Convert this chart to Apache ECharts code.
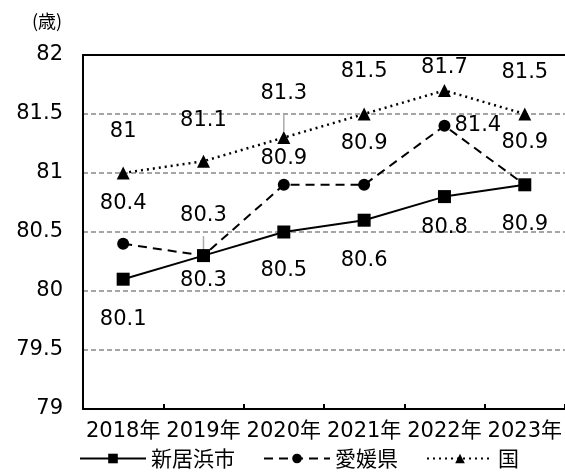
<!DOCTYPE html>
<html>
<head>
<meta charset="utf-8">
<script src="https://cdn.jsdelivr.net/npm/echarts@6/dist/echarts.min.js"></script>
<style>
  html, body { margin: 0; padding: 0; background: #fff; }
  #chart { width: 565px; height: 476px; }
</style>
</head>
<body>
<div id="chart"></div>
<script>
// data
const years = ["2018年", "2019年", "2020年", "2021年", "2022年", "2023年"];
const niihama = [80.1, 80.3, 80.5, 80.6, 80.8, 80.9];
const ehime = [80.4, 80.3, 80.9, 80.9, 81.4, 80.9];
const kuni = [81.0, 81.1, 81.3, 81.5, 81.7, 81.5];
const seriesNames = ["新居浜市", "愛媛県", "国"];

const font = "'Noto Sans CJK JP', sans-serif";
const numFont = "'DejaVu Sans', 'Noto Sans CJK JP', sans-serif";

// label placement for each point: [position, distance]
const niihamaLabel = [["bottom", 23], ["bottom", 8], ["bottom", 22], ["bottom", 23], ["bottom", 14], ["bottom", 23]];
const ehimeLabel = [["top", 24], ["top", 24], ["top", 10], ["top", 25], ["right", 4], ["top", 26]];
const kuniLabel = [["top", 24], ["top", 24], ["top", 27], ["top", 25], ["top", 6], ["top", 24]];

function fmt(v) {
  return Number.isInteger(v) ? String(v) : v.toFixed(1);
}

function buildData(values, placement, leaders) {
  return values.map((v, i) => {
    const item = {
      value: v,
      label: {
        position: placement[i][0],
        distance: placement[i][1],
      },
    };
    if (leaders && leaders.includes(i)) {
      item.labelLine = { show: true, lineStyle: { color: "#aaa", width: 1.5 } };
    }
    return item;
  });
}

const labelStyle = {
  show: true,
  color: "#000",
  fontSize: 21,
  fontFamily: numFont,
  formatter: (p) => fmt(p.value),
};

const chart = echarts.init(document.getElementById("chart"));
chart.setOption({
  animation: false,
  textStyle: { fontFamily: font },
  title: {
    text: "(歳)",
    left: 27,
    top: 7,
    textStyle: { fontSize: 18, fontWeight: "normal", color: "#000", fontFamily: font },
  },
  legend: {
    left: 74,
    bottom: 2,
    itemWidth: 66,
    itemHeight: 12,
    itemGap: 28,
    textStyle: { fontSize: 21, color: "#000", fontFamily: font },
    data: seriesNames,
  },
  grid: { left: 83, right: 0, top: 55, bottom: 67 },
  xAxis: [
    {
      type: "category",
      data: years,
      axisLine: { lineStyle: { color: "#000", width: 2 } },
      axisTick: { show: true, inside: true, length: 5, lineStyle: { color: "#000", width: 2 } },
      axisLabel: { color: "#000", fontSize: 21, margin: 12, fontFamily: numFont, interval: 0 },
    },
    {
      type: "category",
      data: years,
      position: "top",
      axisLine: { lineStyle: { color: "#000", width: 2 } },
      axisTick: { show: false },
      axisLabel: { show: false },
    },
  ],
  yAxis: {
    type: "value",
    min: 79,
    max: 82,
    interval: 0.5,
    axisLine: { show: true, lineStyle: { color: "#000", width: 2 } },
    axisTick: { show: false },
    axisLabel: { color: "#000", fontSize: 21, margin: 20, fontFamily: numFont, formatter: (v) => fmt(v) },
    splitLine: { lineStyle: { color: "#888", type: [5, 3], width: 1.5 } },
  },
  series: [
    {
      name: seriesNames[0],
      type: "line",
      data: buildData(niihama, niihamaLabel),
      symbol: "rect",
      symbolSize: 13,
      lineStyle: { color: "#000", width: 2 },
      itemStyle: { color: "#000" },
      label: labelStyle,
      z: 3,
    },
    {
      name: seriesNames[1],
      type: "line",
      data: buildData(ehime, ehimeLabel, [1]),
      symbol: "circle",
      symbolSize: 12,
      lineStyle: { color: "#000", width: 2, type: [9, 6] },
      itemStyle: { color: "#000" },
      label: labelStyle,
      z: 2,
    },
    {
      name: seriesNames[2],
      type: "line",
      data: buildData(kuni, kuniLabel, [2]),
      symbol: "triangle",
      symbolSize: 13,
      lineStyle: { color: "#000", width: 2.5, type: [2, 4] },
      itemStyle: { color: "#000" },
      label: labelStyle,
      z: 2,
    },
  ],
});
</script>
</body>
</html>
